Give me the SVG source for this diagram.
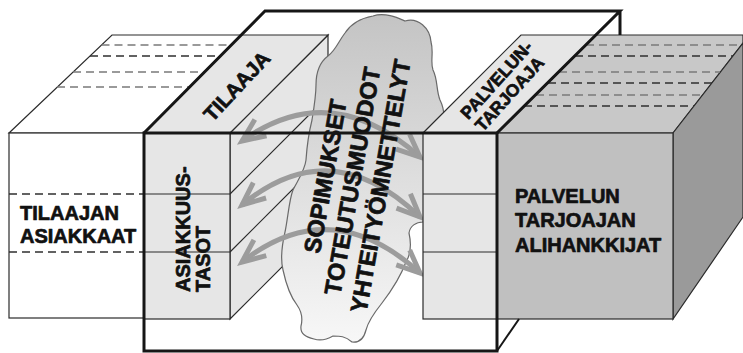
<svg xmlns="http://www.w3.org/2000/svg" width="743" height="353" viewBox="0 0 743 353">
  <style>
    .line { stroke: #2b2b2b; stroke-width: 1.2; }
    .thin { fill: none; stroke: #2b2b2b; stroke-width: 1.2; }
    .frame { fill: none; stroke: #161616; stroke-width: 3; stroke-linejoin: miter; }
    .dashA { fill: none; stroke: #7a7a7a; stroke-width: 1.3; stroke-dasharray: 8 5; }
    .dashB { fill: none; stroke: #2f2f2f; stroke-width: 1.3; stroke-dasharray: 8 5; }
    .light { fill: #e6e6e6; stroke: #2b2b2b; stroke-width: 1.2; }
    .arc { fill: none; stroke: #9c9c9c; stroke-width: 5; marker-start: url(#chev); marker-end: url(#chev); }
    .lbl { font-family: "Liberation Sans", Arial, sans-serif; font-weight: bold; fill: #111; stroke: #111; stroke-width: 0.7; stroke-linejoin: round; }
  </style>
  <defs>
    <linearGradient id="cloudFill" gradientUnits="userSpaceOnUse" x1="0" y1="16" x2="0" y2="342">
      <stop offset="0" stop-color="#c4c4c4"/>
      <stop offset="0.5" stop-color="#dedede"/>
      <stop offset="1" stop-color="#f7f7f7"/>
    </linearGradient>
    <marker id="chev" markerUnits="userSpaceOnUse" orient="auto-start-reverse" overflow="visible" markerWidth="1" markerHeight="1" refX="0" refY="0">
      <path d="M-23,-10 L0,0 L-23,10" fill="none" stroke="#9c9c9c" stroke-width="5"/>
    </marker>
  </defs>

  <rect x="0" y="0" width="743" height="353" fill="#ffffff"/>

  <!-- left outer block: customers of the client -->
  <g id="tilaajan-asiakkaat">
    <polygon points="9,133 112,35 241,35 144,133" fill="#ffffff" class="line"/>
    <path class="dashA" d="M101.5,45 H231"/>
    <path class="dashB" d="M90,56 H220"/>
    <path class="dashA" d="M73,72 H204"/>
    <path class="dashA" d="M57,87 H189"/>
    <rect x="9" y="133" width="135" height="185" fill="#ffffff" class="line"/>
    <path class="dashB" d="M9,194 H144 M9,252 H144"/>
    <text class="lbl" font-size="20" x="20" y="220">TILAAJAN</text>
    <text class="lbl" font-size="20" x="20" y="243">ASIAKKAAT</text>
  </g>

  <!-- right outer block: subcontractors of the provider -->
  <g id="alihankkijat">
    <polygon points="497,133 596,35 743,35 743,43 673,133" fill="#c8c8c8" class="line"/>
    <polygon points="673,133 743,43 743,217 673,319" fill="#9a9a9a" class="line"/>
    <path class="dashA" d="M586,45 H741"/>
    <path class="dashB" d="M575,56 H733"/>
    <path class="dashA" d="M559,72 H720"/>
    <path class="dashB" d="M548,83 H712"/>
    <path class="dashA" d="M536,95 H702"/>
    <path class="dashB" d="M524,106 H694"/>
    <rect x="497" y="133" width="176" height="186" fill="#c0c0c0" class="line"/>
    <text class="lbl" font-size="20" x="515" y="203">PALVELUN</text>
    <text class="lbl" font-size="20" x="515" y="227">TARJOAJAN</text>
    <text class="lbl" font-size="20" x="515" y="252">ALIHANKKIJAT</text>
  </g>

  <!-- client block with customer levels -->
  <g id="tilaaja">
    <polygon class="light" points="230,133 328,35 328,221 230,319"/>
    <path class="thin" d="M230,194 L328,96 M230,252 L328,154"/>
    <polygon class="light" points="144,133 230,133 328,35 241,35"/>
    <rect class="light" x="144" y="133" width="86" height="186"/>
    <path class="thin" d="M144,194 H230 M144,252 H230"/>
    <text class="lbl" font-size="20.5" text-anchor="middle" transform="translate(242,91) rotate(-47)">TILAAJA</text>
    <g transform="rotate(-90)">
      <text class="lbl" font-size="20" x="-292" y="190">ASIAKKUUS-</text>
      <text class="lbl" font-size="20" x="-292" y="210">TASOT</text>
    </g>
  </g>

  <!-- cloud of agreements and working methods -->
  <g id="pilvi">
    <path fill="url(#cloudFill)" stroke="#6a6a6a" stroke-width="1.2" d="M373,16 C385,12 398,18 405,21 C418,17 430,28 431,42 C434,52 430,62 433,70 C438,80 436,90 440,100 C446,112 444,125 440,135 L432,200 L423,222 C416,222 410,226 409,233 C411,242 412,252 406,262 C400,278 392,290 382,303 C374,313 368,322 366,330 C364,338 360,343 352,342 C345,336 340,336 333,336 C326,340 320,341 314,339 C306,337 300,334 301,326 C303,318 302,312 297,305 C290,296 286,284 283,270 C280,258 282,245 285,232 C288,218 289,200 293,190 C298,180 305,170 306,160 C307,145 309,132 312,120 C314,108 316,95 316,85 C316,72 320,62 328,56 C336,50 338,42 345,33 C352,22 362,18 373,16 Z"/>
  </g>

  <!-- two-way interaction arrows -->
  <g id="connectors">
    <path class="arc" d="M242,141 Q331,77 420,157"/>
    <path class="arc" d="M242,205 Q331,131 420,217"/>
    <path class="arc" d="M242,262 Q331,192 420,273"/>
  </g>

  <g id="pilvi-teksti">
    <g transform="translate(352,181) rotate(-80)">
      <text class="lbl" font-size="23.5" text-anchor="middle" x="0" y="-19">SOPIMUKSET</text>
      <text class="lbl" font-size="23.5" text-anchor="middle" x="0" y="8.5">TOTEUTUSMUODOT</text>
      <text class="lbl" font-size="23.5" text-anchor="middle" x="0" y="37">YHTEITYÖMNETTELYT</text>
    </g>
  </g>

  <!-- service provider block -->
  <g id="palveluntarjoaja">
    <polygon class="light" points="423,133 497,133 596,35 521,35"/>
    <rect class="light" x="423" y="133" width="74" height="186"/>
    <path class="thin" d="M423,194 H497 M423,252 H497"/>
    <text class="lbl" font-size="17.5" text-anchor="middle" transform="translate(501,84) rotate(-48)">PALVELUN-</text>
    <text class="lbl" font-size="17.5" text-anchor="middle" transform="translate(514,98) rotate(-48)">TARJOAJA</text>
  </g>

  <!-- outer frame -->
  <g id="kehys">
    <path class="frame" d="M144,133 H497 V351 H144 Z"/>
    <path class="frame" d="M144,133 L265,11 H620 L497,133 M620,11 V35"/>
    <path fill="none" stroke="#161616" stroke-width="2" d="M497,351 L519,319"/>
  </g>
</svg>
